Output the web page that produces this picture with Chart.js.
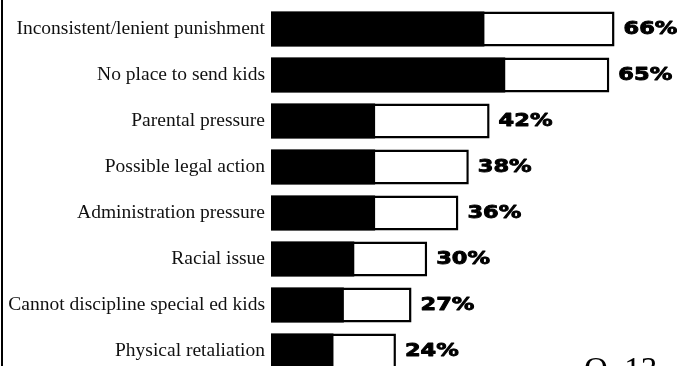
<!DOCTYPE html>
<html>
<head>
<meta charset="utf-8">
<script src="https://cdn.jsdelivr.net/npm/chart.js@4.4.1/dist/chart.umd.min.js"></script>
<style>
  html, body { margin: 0; padding: 0; background: #fff; overflow: hidden; }
  #wrap { width: 677px; height: 374px; position: relative; }
</style>
</head>
<body>
<div id="wrap"><canvas id="chart"></canvas></div>
<script>
// reasons, total share and the darker (strong) share of each bar
const reasons = [
  'Inconsistent/lenient punishment',
  'No place to send kids',
  'Parental pressure',
  'Possible legal action',
  'Administration pressure',
  'Racial issue',
  'Cannot discipline special ed kids',
  'Physical retaliation'
];
const totals = [66, 65, 42, 38, 36, 30, 27, 24];
const darkPart = [41, 45, 20, 20, 20, 16, 14, 12];
const pctLabels = totals.map(v => v + '%');
const questionTag = 'Q. 13';

// % labels at bar ends, the left rule and the question number
const extras = {
  id: 'extras',
  afterDatasetsDraw(chart) {
    const ctx = chart.ctx;
    const meta = chart.getDatasetMeta(1);
    ctx.save();
    ctx.fillStyle = '#000';
    ctx.strokeStyle = '#000';
    ctx.lineWidth = 0.9;
    ctx.lineJoin = 'round';
    ctx.font = 'bold 18px "DejaVu Sans"';
    ctx.textBaseline = 'middle';
    meta.data.forEach((bar, i) => {
      ctx.save();
      ctx.translate(bar.x + 9, bar.y);
      ctx.scale(1.25, 1);
      ctx.fillText(pctLabels[i], 0, 0);
      ctx.strokeText(pctLabels[i], 0, 0);
      ctx.restore();
    });
    ctx.fillRect(1, 0, 2, chart.height);
    ctx.font = '33px "Liberation Serif"';
    ctx.textBaseline = 'alphabetic';
    ctx.fillText(questionTag, 584, 380);
    ctx.restore();
  }
};

new Chart(document.getElementById('chart'), {
  type: 'bar',
  data: {
    labels: reasons,
    datasets: [
      {
        label: 'dark',
        data: darkPart,
        backgroundColor: '#000',
        borderWidth: 0,
        barPercentage: 0.76,
        categoryPercentage: 1,
        grouped: false
      },
      {
        label: 'total',
        data: totals,
        backgroundColor: '#fff',
        borderColor: '#000',
        borderWidth: 2.5,
        barPercentage: 0.76,
        categoryPercentage: 1,
        grouped: false
      }
    ]
  },
  options: {
    indexAxis: 'y',
    responsive: true,
    maintainAspectRatio: false,
    animation: false,
    layout: { padding: { top: 6, bottom: 0, left: 0, right: 0 } },
    scales: {
      x: { display: false, min: 0, max: 78 },
      y: {
        afterFit(scale) {
          scale.width = 271;
          scale.paddingTop = 0;
          scale.paddingBottom = 0;
        },
        grid: { display: false, drawTicks: false },
        border: { display: false },
        ticks: {
          color: '#111',
          padding: 6,
          font: { family: '"Liberation Serif"', size: 19.5 }
        }
      }
    },
    plugins: { legend: { display: false }, tooltip: { enabled: false } }
  },
  plugins: [extras]
});
</script>
</body>
</html>
